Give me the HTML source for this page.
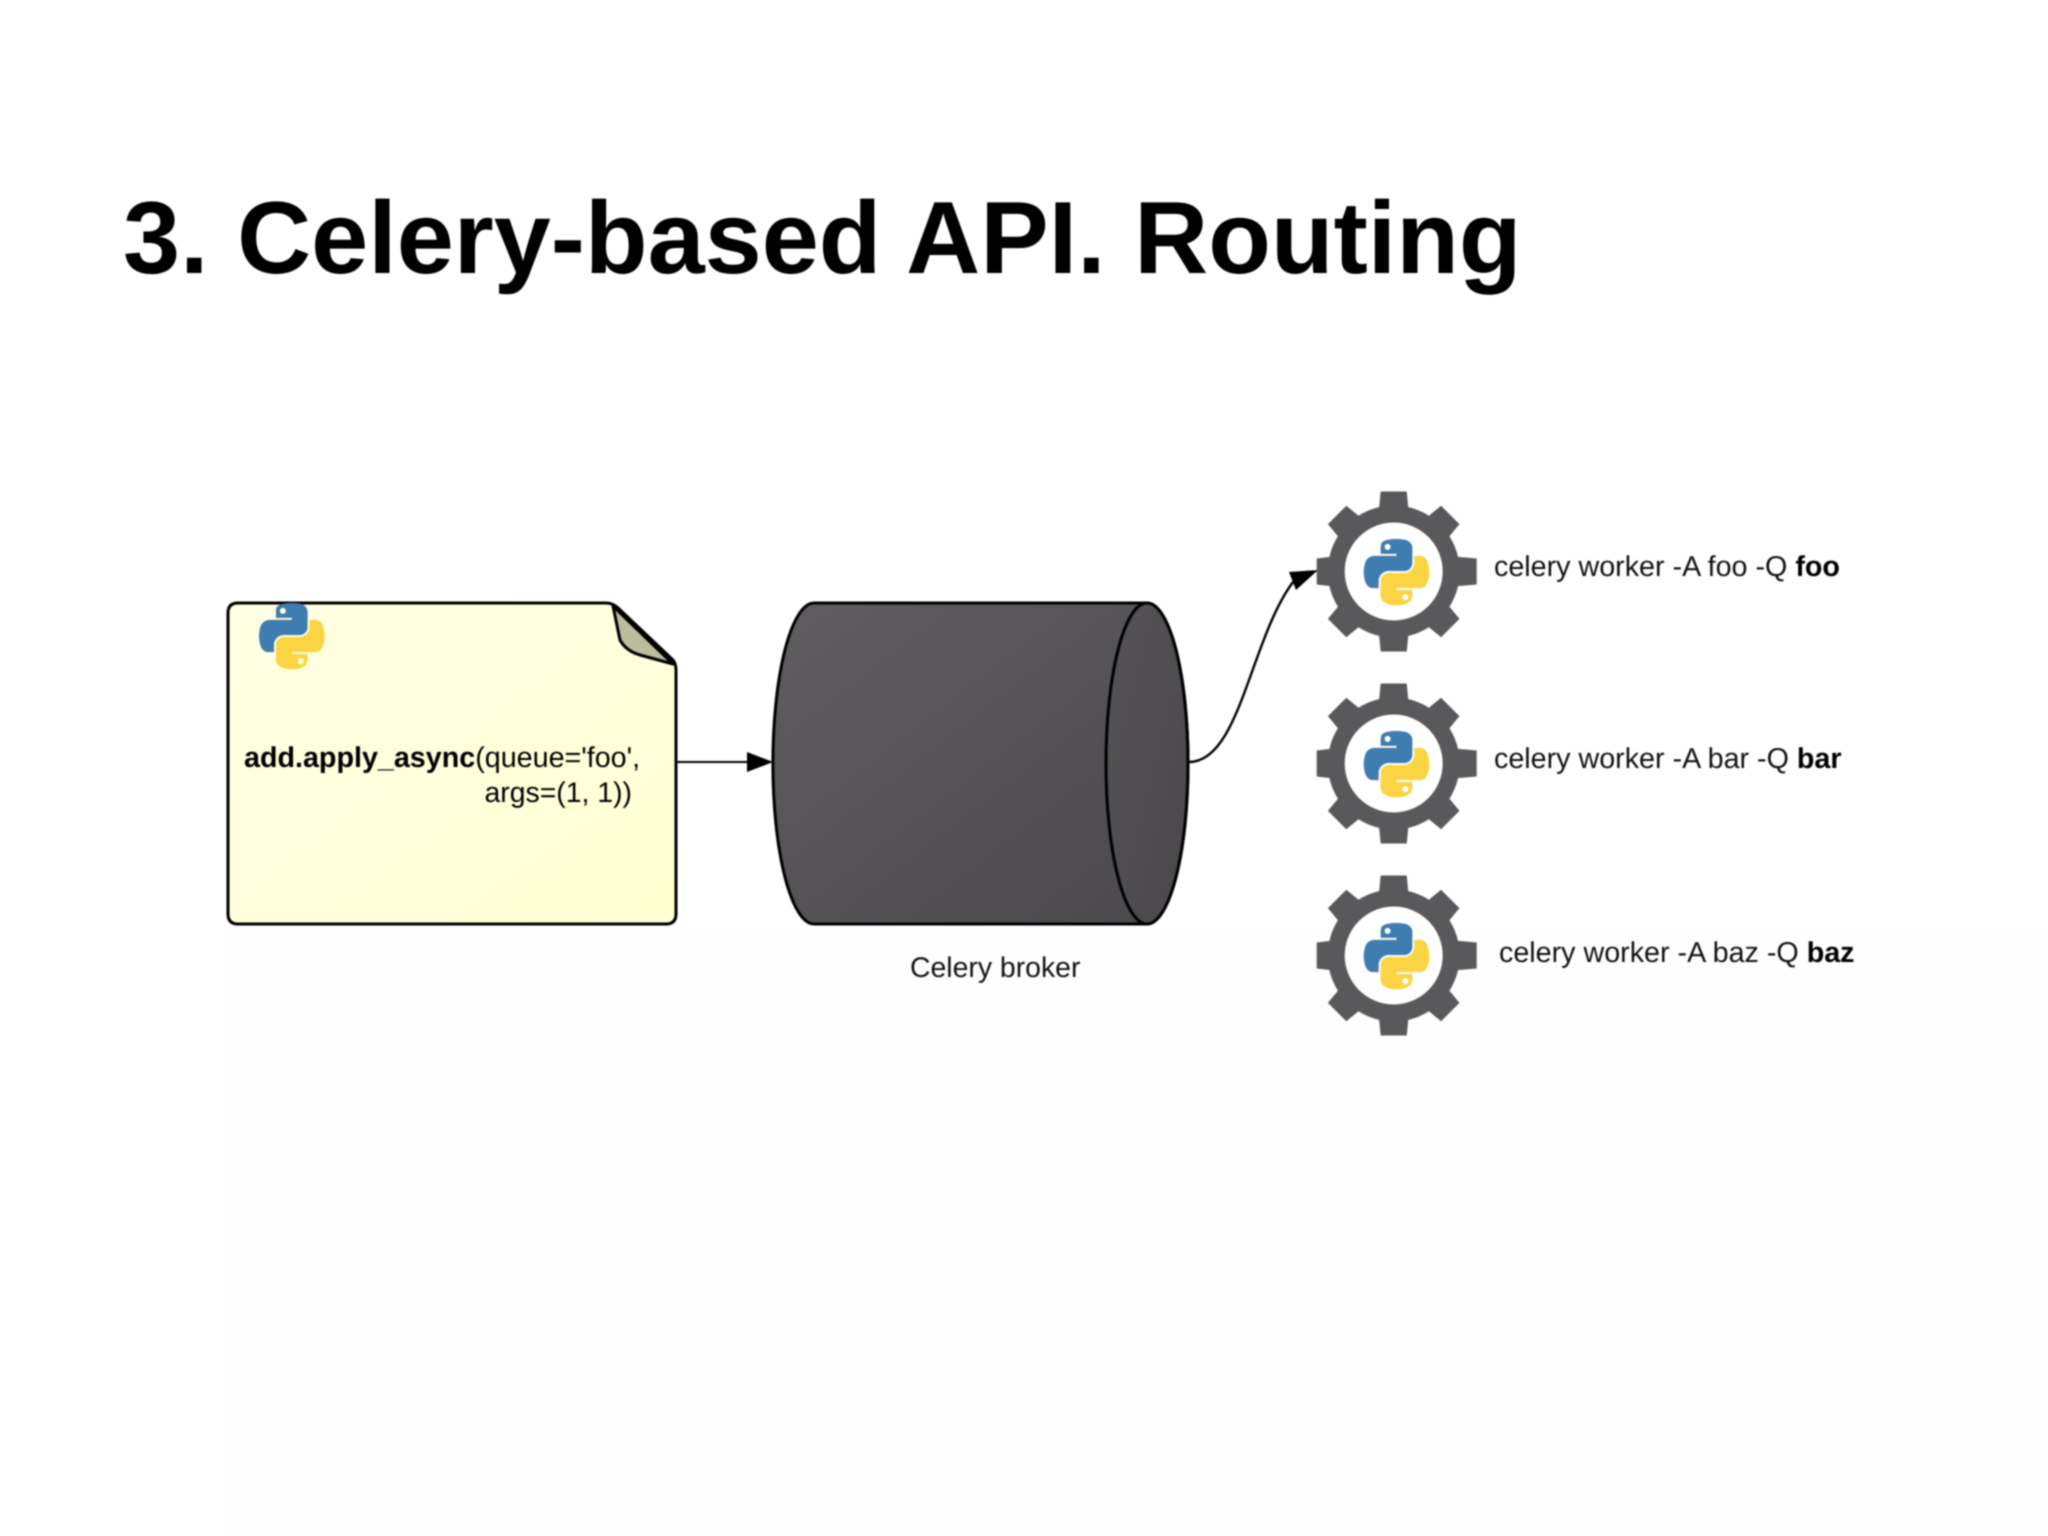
<!DOCTYPE html>
<html><head><meta charset="utf-8"><style>
html,body{margin:0;padding:0;background:#fff;width:2048px;height:1536px;overflow:hidden}
svg{display:block;filter:blur(0.7px)}
text{font-family:"Liberation Sans",Arial,sans-serif;text-rendering:geometricPrecision}
</style></head><body>
<svg width="2048" height="1536" viewBox="0 0 2048 1536" xmlns="http://www.w3.org/2000/svg">
<defs>
<linearGradient id="cyl" x1="0" y1="0" x2="1" y2="1"><stop offset="0" stop-color="#5f5d60"/><stop offset="1" stop-color="#4a484b"/></linearGradient>
<linearGradient id="cap" x1="0" y1="0" x2="1" y2="1"><stop offset="0" stop-color="#555356"/><stop offset="1" stop-color="#49474a"/></linearGradient>
<linearGradient id="doc" x1="0" y1="0" x2="1" y2="1"><stop offset="0" stop-color="#ffffe2"/><stop offset="0.5" stop-color="#ffffdc"/><stop offset="1" stop-color="#ffffd2"/></linearGradient>
<path id="blue" fill="#3f7cb0" d="M54.919 0c-4.584.022-8.961.413-12.813 1.095C30.76 3.099 28.7 7.295 28.7 15.032v10.219h26.813v3.406H18.638c-7.792 0-14.616 4.684-16.75 13.594-2.462 10.213-2.571 16.586 0 27.25 1.906 7.938 6.458 13.594 14.25 13.594h9.219V70.844c0-8.85 7.657-16.656 16.75-16.656h26.781c7.455 0 13.406-6.138 13.406-13.625V15.032c0-7.266-6.13-12.725-13.406-13.937C64.282.328 59.502-.02 54.919 0zM40.419 8.22c2.77 0 5.031 2.299 5.031 5.125 0 2.816-2.262 5.094-5.031 5.094-2.78 0-5.031-2.278-5.031-5.094 0-2.826 2.252-5.125 5.031-5.125z"/>
<path id="yellow" fill="#fbd443" d="M85.638 28.657v11.906c0 9.231-7.826 17-16.75 17H42.107c-7.336 0-13.406 6.278-13.406 13.625v25.531c0 7.266 6.319 11.54 13.406 13.625 8.487 2.496 16.626 2.947 26.781 0 6.75-1.954 13.406-5.888 13.406-13.625V86.5H55.513v-3.405H95.7c7.792 0 10.696-5.435 13.406-13.594 2.8-8.399 2.68-16.476 0-27.25-1.926-7.757-5.604-13.594-13.406-13.594zM70.575 93.313c2.78 0 5.031 2.278 5.031 5.094 0 2.826-2.252 5.125-5.031 5.125-2.77 0-5.031-2.299-5.031-5.125 0-2.816 2.262-5.094 5.031-5.094z"/>
<g id="py"><use href="#blue"/><use href="#yellow"/></g>
<g id="gear">
<circle r="57.5" fill="none" stroke="#59595b" stroke-width="17"/>
<g fill="#59595b">
<path d="M-13-80H13L15-60H-15Z"/>
<path d="M-13-80H13L15-60H-15Z" transform="rotate(45)"/>
<path d="M-13-83H13L15-60H-15Z" transform="rotate(90)"/>
<path d="M-13-80H13L15-60H-15Z" transform="rotate(135)"/>
<path d="M-13-80H13L15-60H-15Z" transform="rotate(180)"/>
<path d="M-13-80H13L15-60H-15Z" transform="rotate(225)"/>
<path d="M-13-77H13L15-60H-15Z" transform="rotate(270)"/>
<path d="M-13-80H13L15-60H-15Z" transform="rotate(315)"/>
</g>
<use href="#py" transform="translate(-30,-32.5) scale(0.5909)"/>
</g>
</defs>
<rect x="225" y="930" width="1823" height="606" fill="#fefefe"/>

<text x="123" y="273" font-size="102.6" font-weight="700" fill="#000">3. Celery-based API. Routing</text>

<!-- document -->
<path d="M238 603H606Q612 603 617 607L673 660Q676 664 676 670V914Q676 924 666 924H238Q228 924 228 914V613Q228 603 238 603Z" fill="url(#doc)" stroke="#000" stroke-width="3"/>
<path d="M613 606L673 664L640 655Q626 651 620 640Z" fill="#bcbc9f" stroke="#000" stroke-width="3" stroke-linejoin="round"/>
<use href="#py" transform="translate(259,603) scale(0.5909)"/>
<text x="244" y="767" font-size="28.7" fill="#000"><tspan font-weight="700">add.apply_async</tspan>(queue='foo',</text>
<text x="632" y="802" font-size="28.4" fill="#000" text-anchor="end">args=(1, 1))</text>

<!-- arrow to broker -->
<line x1="677" y1="762" x2="752" y2="762" stroke="#000" stroke-width="2"/>
<path d="M747 752L773 762L747 772Z" fill="#000"/>

<!-- broker -->
<path d="M814 603H1147A41 160 0 0 1 1147 924H814A41 160 0 0 1 814 603Z" fill="url(#cyl)" stroke="#000" stroke-width="3"/>
<ellipse cx="1147" cy="763.5" rx="41" ry="160.5" fill="url(#cap)" stroke="#000" stroke-width="3"/>
<text x="910" y="977" font-size="28.4" fill="#111">Celery broker</text>

<!-- curve -->
<path d="M1189 762C1240 762 1250 640 1293 582" fill="none" stroke="#000" stroke-width="2.4"/>
<path d="M1318 570L1289 572L1296 590Z" fill="#000"/>

<!-- workers -->
<use href="#gear" x="1393.7" y="571.5"/>
<use href="#gear" x="1393.7" y="763.5"/>
<use href="#gear" x="1393.7" y="955.5"/>

<text x="1494" y="576" font-size="28.7" fill="#111">celery worker -A foo -Q <tspan font-weight="700" fill="#000">foo</tspan></text>
<text x="1494" y="768" font-size="28.7" fill="#111">celery worker -A bar -Q <tspan font-weight="700" fill="#000">bar</tspan></text>
<text x="1499" y="962" font-size="28.7" fill="#111">celery worker -A baz -Q <tspan font-weight="700" fill="#000">baz</tspan></text>
</svg>
</body></html>
